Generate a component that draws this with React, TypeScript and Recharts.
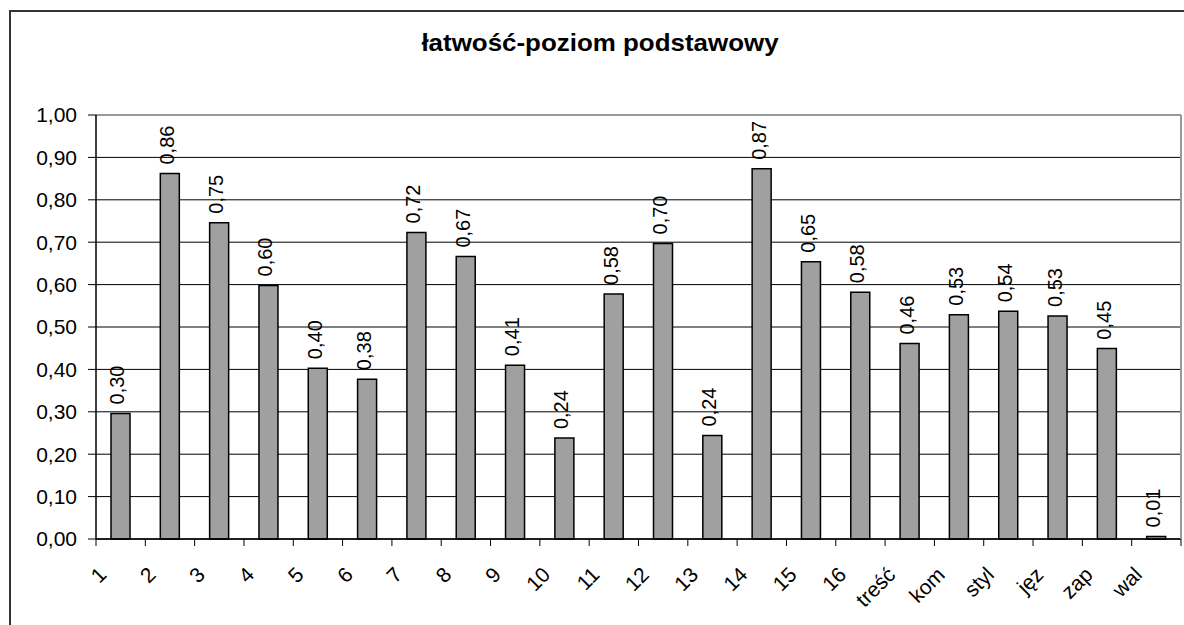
import { BarChart, Bar, XAxis, YAxis, CartesianGrid, ReferenceLine, LabelList } from "recharts";

const CATEGORIES = [
  "1", "2", "3", "4", "5", "6", "7", "8", "9", "10", "11", "12", "13", "14", "15", "16",
  "treść", "kom", "styl", "jęz", "zap", "wal",
];

const EASE = [
  0.296, 0.862, 0.746, 0.598, 0.403, 0.377, 0.723, 0.666, 0.41, 0.238, 0.578, 0.697,
  0.244, 0.873, 0.654, 0.582, 0.461, 0.529, 0.537, 0.526, 0.449, 0.006,
];

const Y_TICKS = [0, 0.1, 0.2, 0.3, 0.4, 0.5, 0.6, 0.7, 0.8, 0.9, 1.0];

const TITLE = "łatwość-poziom podstawowy";

const data = CATEGORIES.map((name, i) => ({ name, value: EASE[i] }));

const FONT = '"Liberation Sans", Arial, sans-serif';

const fmt = (v: number) => v.toFixed(2).replace(".", ",");

function XTick(props: any) {
  const { x, y, payload, index } = props;
  const off = payload.offset || 0;
  const last = index === CATEGORIES.length - 1;
  return (
    <g>
      <line x1={x - off} x2={x - off} y1={y} y2={y + 7} stroke="#000" />
      {last && <line x1={x + off} x2={x + off} y1={y} y2={y + 7} stroke="#000" />}
      <text
        x={x - 13}
        y={y + 37}
        transform={`rotate(-45, ${x - 13}, ${y + 37})`}
        textAnchor="end"
        fontSize={21}
        fontFamily={FONT}
        fill="#000"
      >
        {payload.value}
      </text>
    </g>
  );
}

function BarValue(props: any) {
  const { x, y, width, value } = props;
  const lx = x + width / 2 + 4;
  const ly = y - 9;
  return (
    <text
      x={lx}
      y={ly}
      transform={`rotate(-90, ${lx}, ${ly})`}
      textAnchor="start"
      fontSize={20}
      fontFamily={FONT}
      fill="#000"
    >
      {fmt(value)}
    </text>
  );
}

export default function App() {
  return (
    <div
      style={{
        position: "absolute",
        left: 0,
        top: 0,
        width: 1184,
        height: 625,
        overflow: "hidden",
        background: "#fff",
        fontFamily: FONT,
      }}
    >
      <div
        style={{
          position: "absolute",
          left: 9,
          top: 10,
          width: 1250,
          height: 700,
          border: "2px solid #333",
        }}
      />
      <div
        style={{
          position: "absolute",
          left: 0,
          width: 1200,
          top: 31,
          textAlign: "center",
          fontSize: 24,
          lineHeight: "24px",
          fontWeight: "bold",
          color: "#000",
          transform: "scaleX(1.08)",
          transformOrigin: "600px 0",
        }}
      >
        {TITLE}
      </div>
      <div style={{ position: "absolute", left: 0, top: 0 }}>
        <BarChart
          width={1184}
          height={625}
          data={data}
          margin={{ top: 115, right: 2, left: 0, bottom: 0 }}
          barSize={19}
        >
          <CartesianGrid horizontal vertical={false} stroke="#000" yAxisId="left" />
          <XAxis
            dataKey="name"
            interval={0}
            height={86}
            tickLine={false}
            tickSize={0}
            tickMargin={0}
            axisLine={{ stroke: "#000", strokeWidth: 1.5 }}
            tick={<XTick />}
          />
          <YAxis
            yAxisId="left"
            width={96}
            domain={[0, 1]}
            ticks={Y_TICKS}
            tickFormatter={fmt}
            tickSize={8}
            tickMargin={11}
            axisLine={{ stroke: "#000", strokeWidth: 1.5 }}
            tickLine={{ stroke: "#000" }}
            tick={{ fontSize: 21, fill: "#000", fontFamily: FONT }}
          />
          <YAxis
            yAxisId="right"
            orientation="right"
            width={1}
            domain={[0, 1]}
            tick={false}
            tickLine={false}
            axisLine={{ stroke: "#999", strokeWidth: 2 }}
          />
          <ReferenceLine yAxisId="left" y={1} stroke="#999" strokeWidth={2} />
          <Bar
            yAxisId="left"
            dataKey="value"
            fill="#a0a0a0"
            stroke="#000"
            strokeWidth={1.5}
            isAnimationActive={false}
          >
            <LabelList dataKey="value" content={<BarValue />} />
          </Bar>
        </BarChart>
      </div>
    </div>
  );
}
